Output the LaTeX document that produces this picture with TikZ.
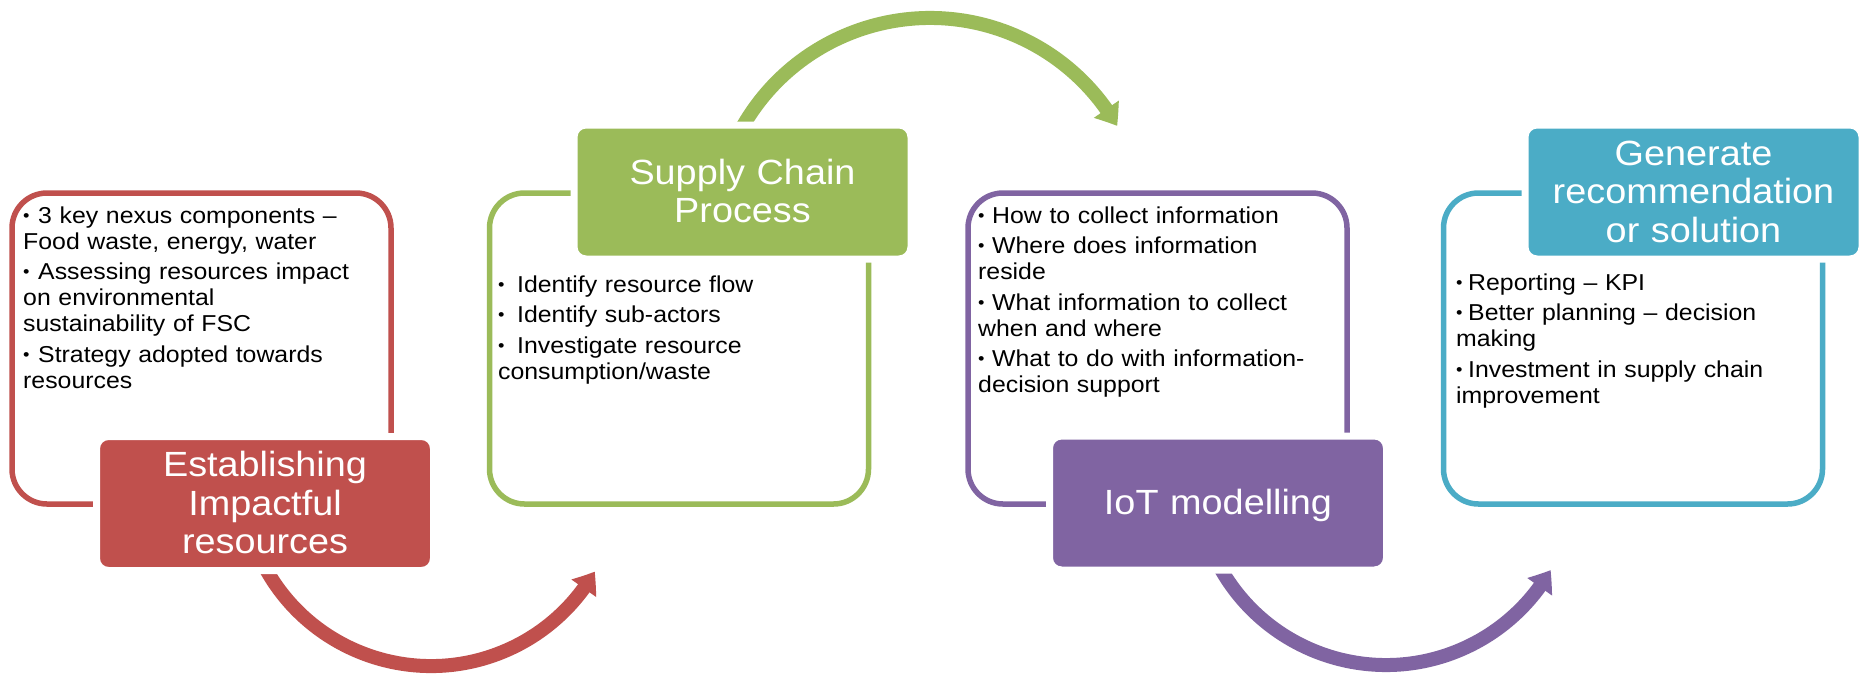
\documentclass[tikz,border=0pt]{standalone}
\usepackage{fontspec}
\setmainfont{Liberation Sans}[FakeStretch=1.08]
\usetikzlibrary{arrows.meta,bending}
\definecolor{cred}{HTML}{C0504D}
\definecolor{cgreen}{HTML}{9BBB59}
\definecolor{cpurple}{HTML}{8064A2}
\definecolor{caqua}{HTML}{4BACC6}
\newlength{\bhang}
\setlength{\parskip}{0pt}
\newcommand{\bdot}{\raisebox{2pt}{\fontsize{17}{17}\selectfont\textbullet}}
\newcommand{\bul}[1]{\hangindent=\bhang\hangafter=1\noindent\makebox[\bhang][l]{\bdot}#1\par}
\newcommand{\isep}{\vspace{4.5pt}}
\newcommand{\ttl}[1]{\rule{0pt}{32pt}#1\rule[-9pt]{0pt}{9pt}}
\newcommand{\fst}{\rule{0pt}{20pt}}
\begin{document}
\begin{tikzpicture}[x=1pt,y=-1pt,
  outline/.style={rectangle, rounded corners=35pt, line width=5.5pt, fill=white,
    minimum width=379pt, minimum height=311pt, inner sep=0pt},
  ttlbox/.style={rectangle, rounded corners=12pt, draw=white, line width=7pt,
    inner sep=0pt, minimum width=337pt, minimum height=134pt, text width=320pt,
    align=center, text=white, font=\fontsize{35}{38.5}\selectfont},
  bodytxt/.style={anchor=north west, inner sep=0pt, text width=345pt, align=left,
    font=\fontsize{23}{26}\selectfont, text=black},
  flow/.style={line width=14pt, -{Triangle[width=29pt,length=20pt,bend]}}
]
\fill[white] (0,0) rectangle (1860,673);
\useasboundingbox (0,0) rectangle (1860,673);

% outlined boxes
\node[outline, draw=cred]    (o1) at (201.5,348.5) {};
\node[outline, draw=cgreen]  (o2) at (679,348.5) {};
\node[outline, draw=cpurple] (o3) at (1157.5,348.5) {};
\node[outline, draw=caqua]   (o4) at (1633,348.5) {};

% curved arrows
\coordinate (a1s) at (259.7,556.9);
\draw[flow, cred] (a1s) arc[start angle=155, end angle=30, radius=189];
\coordinate (a2s) at (735.9,139.3);
\draw[flow, cgreen] (a2s) arc[start angle=206, end angle=330, radius=216];
\coordinate (a3s) at (1213.8,555.3);
\draw[flow, cpurple] (a3s) arc[start angle=155, end angle=30, radius=190];

% title boxes
\node[ttlbox, fill=cred]    (t1) at (265,503.5)  {\ttl{Establishing\\Impactful\\resources}};
\node[ttlbox, fill=cgreen]  (t2) at (742.5,192)  {\ttl{Supply Chain\\Process}};
\node[ttlbox, fill=cpurple] (t3) at (1218,503)   {\ttl{IoT modelling}};
\node[ttlbox, fill=caqua]   (t4) at (1693.5,192) {\ttl{Generate\\recommendation\\or solution}};

% bullet texts
\node[bodytxt] (b1) at (23,203) {\setlength{\bhang}{15pt}%
\bul{\fst 3 key nexus components –\\Food waste, energy, water}\isep
\bul{Assessing resources impact\\on environmental\\sustainability of FSC}\isep
\bul{Strategy adopted towards\\resources}};

\node[bodytxt] (b2) at (498,272) {\setlength{\bhang}{19pt}%
\bul{\fst Identify resource flow}\isep
\bul{Identify sub-actors}\isep
\bul{Investigate resource\\consumption/waste}};

\node[bodytxt] (b3) at (978,203) {\setlength{\bhang}{14pt}%
\bul{\fst How to collect information}\isep
\bul{Where does information\\reside}\isep
\bul{What information to collect\\when and where}\isep
\bul{What to do with information-\\decision support}};

\node[bodytxt] (b4) at (1456,270) {\setlength{\bhang}{12pt}%
\bul{\fst Reporting – KPI}\isep
\bul{Better planning – decision\\making}\isep
\bul{Investment in supply chain\\improvement}};
\end{tikzpicture}
\end{document}
